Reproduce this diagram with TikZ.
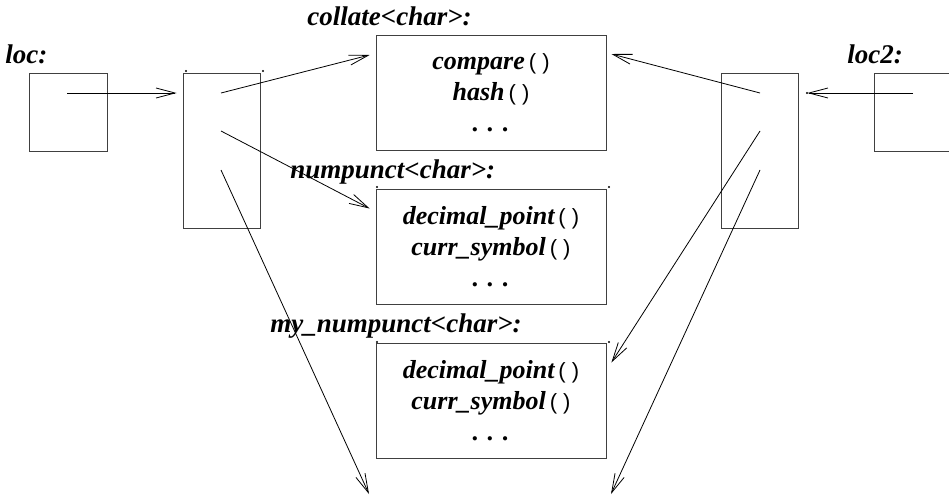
\documentclass[tikz,border=0pt]{standalone}
\usepackage{fontspec}
\setmainfont{Liberation Serif}
\newfontfamily\parenfont{Liberation Sans}
\usetikzlibrary{arrows.meta}
\newcommand{\fn}[1]{#1\hspace{4pt}{\parenfont\upshape\mdseries\fontsize{22}{26}\selectfont( )}}

\begin{document}
\begin{tikzpicture}[x=1pt,y=-1pt,>={Straight Barb[length=19pt,width=10pt]},line width=0.8pt,
  every node/.style={font=\fontsize{26}{31}\selectfont\bfseries\itshape},
  slot/.style={draw=black!75,minimum width=78pt,minimum height=78pt,inner sep=0pt},
  cell/.style={draw=black!75,minimum width=77pt,minimum height=155pt,inner sep=0pt},
  facet/.style={draw=black!75,align=center,minimum width=230pt,minimum height=115pt,inner sep=0pt},
  tag/.style={anchor=base west,inner sep=0pt,font=\fontsize{27}{31}\selectfont\bfseries\itshape},
  pin/.style={fill,radius=1.1pt}]
 \useasboundingbox (0,0) rectangle (949,498);
 \clip (0,0) rectangle (949,498);
 % locale objects
 \node[slot] (loc) at (68,112) {};
 \node[cell] (lrep) at (221.5,150.5) {};
 \node[slot] (loc2) at (913,112) {};
 \node[cell] (rrep) at (759.5,150.5) {};
 \node[tag] (loctag) at (5,63) {loc:};
 \node[tag] (loc2tag) at (847,63) {loc2:};
 % facets
 \node[facet] (collate) at (491,93) {\fn{compare}\\ \fn{hash}\\ . . .};
 \node[facet] (numpunct) at (491,246.5) {\fn{decimal\_point}\\ \fn{curr\_symbol}\\ . . .};
 \node[facet] (mynumpunct) at (491,400.5) {\fn{decimal\_point}\\ \fn{curr\_symbol}\\ . . .};
 \node[tag] (collatetag) at (307,25) {collate<char>:};
 \node[tag] (numpuncttag) at (290,178) {numpunct<char>:};
 \node[tag] (mynumpuncttag) at (270,332) {my\_numpunct<char>:};
 % pointer ends
 \coordinate (lp0) at (67,93);
 \coordinate (lp1) at (221,93);
 \coordinate (lp2) at (221,131);
 \coordinate (lp3) at (221,170);
 \coordinate (rp0) at (913,93);
 \coordinate (rp1) at (760,93);
 \coordinate (rp2) at (760,131);
 \coordinate (rp3) at (760,170);
 \coordinate (lend) at (369,494);
 \coordinate (rend) at (611,494);
 % pointers
 \draw[->] (lp0) -- ([xshift=-6pt]lp0 -| lrep.west);
 \draw[->] (lp1) -- ([xshift=-6pt,yshift=38pt]collate.west);
 \draw[->] (lp2) -- ([xshift=-6pt,yshift=38pt]numpunct.west);
 \draw[->] (lp3) -- (lend);
 \draw[->] (rp0) -- ([xshift=9pt]rp0 -| rrep.east);
 \draw[->] (rp1) -- ([xshift=5pt,yshift=39pt]collate.east);
 \draw[->] (rp2) -- ([xshift=5pt,yshift=38pt]mynumpunct.east);
 \draw[->] (rp3) -- (rend);
 % corner marks
 \fill[pin] (186,71) circle[] (263,71) circle[] (377,187) circle[] (609,187) circle[]
   (377,342) circle[] (609,342) circle[] (807,93) circle[];
\end{tikzpicture}
\end{document}
